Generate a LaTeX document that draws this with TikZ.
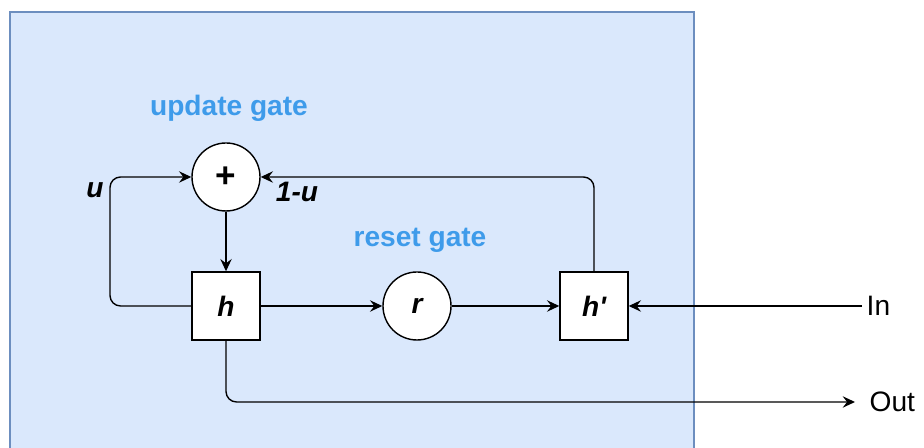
\documentclass[tikz,border=0pt]{standalone}
\usepackage{fontspec}
\setmainfont{Liberation Sans}
\usepackage{tikz}
\usetikzlibrary{arrows.meta,shapes}
\definecolor{panelfill}{HTML}{DAE8FC}
\definecolor{panelline}{HTML}{6C8EBF}
\definecolor{gatetext}{HTML}{3E9BEA}

\begin{document}
\begin{tikzpicture}[>={Stealth[length=7pt,width=6.5pt,inset=2.5pt]},line width=0.8pt]
\fontsize{16}{19}\selectfont\bfseries
\useasboundingbox (0,0) rectangle (18.48,8.96);
\fill[panelfill,draw=panelline] (0.2,-0.5) rectangle (13.88,8.72);
\tikzstyle{cell}=[draw,fill=white,shape=rectangle,minimum size=1.36cm,inner sep=0pt,font=\itshape];
\tikzstyle{gate}=[draw,fill=white,shape=circle,minimum size=1.36cm,inner sep=0pt,font=\itshape];
\tikzstyle{lbl}=[inner sep=0pt];
\node[gate] (plus) at (4.52, 5.42) {\upshape\fontsize{20}{22}\selectfont +};
\node[cell] (h) at (4.52, 2.84) {h};
\node[gate] (r) at (8.34, 2.84) {r};
\node[cell] (hp) at (11.88, 2.84) {h\textquotesingle};
\node[lbl,anchor=west,font=\mdseries] (in) at (17.32, 2.84) {In};
\node[lbl,anchor=west,font=\mdseries] (out) at (17.38, 0.92) {Out};
\node[lbl,text=gatetext] (upd) at (4.58, 6.80) {update gate};
\node[lbl,text=gatetext] (rst) at (8.40, 4.16) {reset gate};
\node[lbl,font=\itshape] (u) at (1.90, 5.16) {u};
\node[lbl,font=\itshape] (omu) at (5.94, 5.12) {1-u};
\coordinate (outend) at (17.1, 0.92);
\draw [->,rounded corners=6pt] (h.west) -- (2.20,2.84) -- (2.20,5.42) -- (plus.west);
\draw [->,rounded corners=6pt] (hp.north) -- (11.88,5.42) -- (plus.east);
\draw [->] (plus) -- (h);
\draw [->] (h) -- (r);
\draw [->] (r) -- (hp);
\draw [->] (in.west) ++(-0.08,0) -- (hp.east);
\draw [->,rounded corners=6pt] (h.south) -- (4.52,0.92) -- (outend);
\end{tikzpicture}
\end{document}
